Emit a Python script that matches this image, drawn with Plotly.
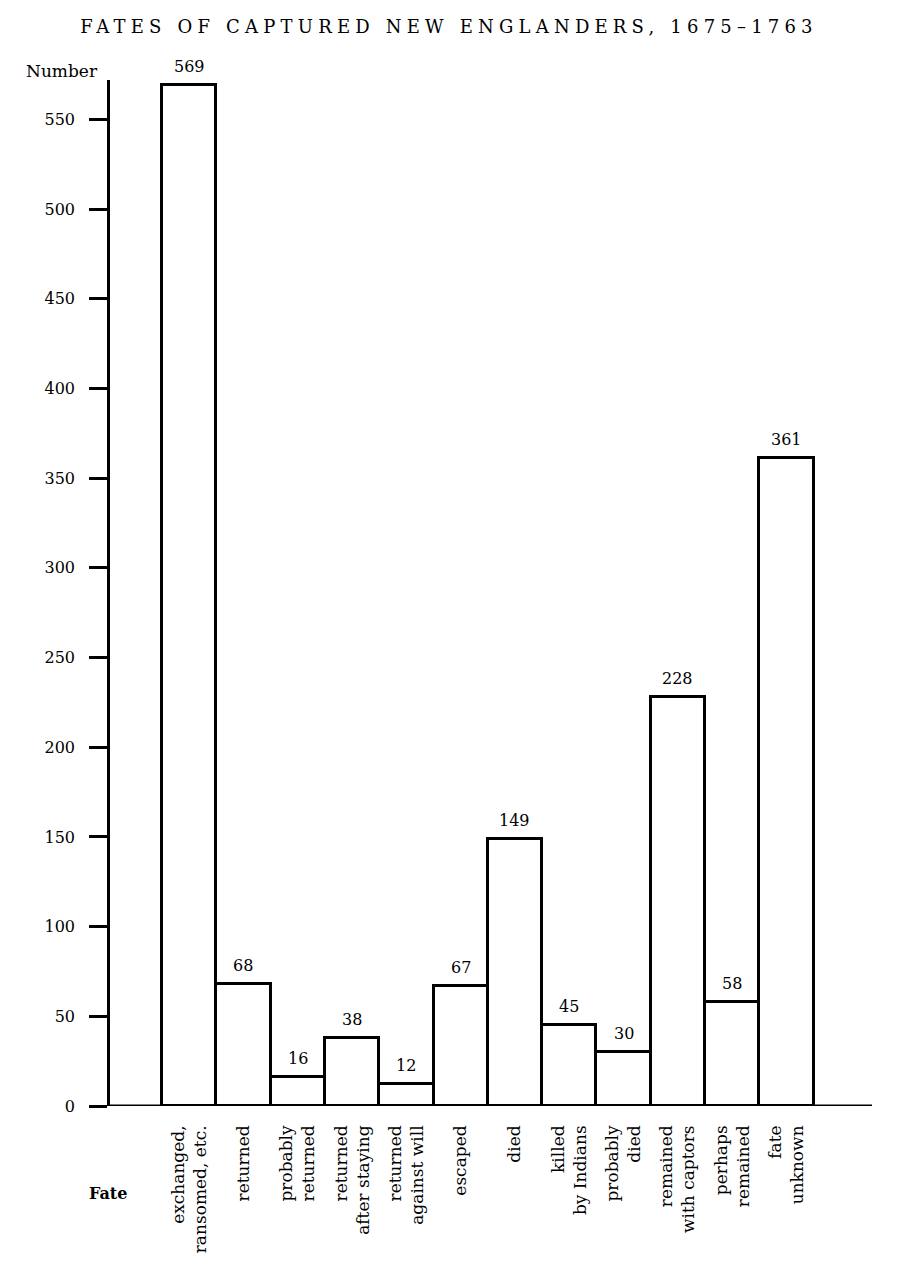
import plotly.graph_objects as go

categories = [
    "exchanged,<br>ransomed, etc.",
    "returned",
    "probably<br>returned",
    "returned<br>after staying",
    "returned<br>against will",
    "escaped",
    "died",
    "killed<br>by Indians",
    "probably<br>died",
    "remained<br>with captors",
    "perhaps<br>remained",
    "fate<br>unknown",
]
values = [569, 68, 16, 38, 12, 67, 149, 45, 30, 228, 58, 361]
y_ticks = [0, 50, 100, 150, 200, 250, 300, 350, 400, 450, 500, 550]

title = "FATES OF CAPTURED NEW ENGLANDERS, 1675\u20131763"
FONT = "DejaVu Serif"

positions = list(range(len(categories)))

W, H = 916, 1274  # page has an 8px body margin

fig = go.Figure()
fig.add_trace(go.Bar(
    x=positions,
    y=values,
    width=1.0,
    marker=dict(color="white", line=dict(color="black", width=3)),
    hoverinfo="skip",
    showlegend=False,
))

for p, v in zip(positions, values):
    fig.add_annotation(
        x=p, y=v, text=str(v), showarrow=False,
        xref="x", yref="y", yanchor="bottom", yshift=7,
        font=dict(family=FONT, size=16, color="black"),
    )

fig.add_annotation(
    text="Number", xref="paper", yref="paper", x=-0.013, y=1.0,
    xanchor="right", yanchor="middle", yshift=9, showarrow=False,
    font=dict(family=FONT, size=17, color="black"),
)
fig.add_annotation(
    text="<b>Fate</b>", xref="paper", yref="paper", x=-0.003, y=0,
    xanchor="center", yanchor="middle", yshift=-87, showarrow=False,
    font=dict(family=FONT, size=16, color="black"),
)

fig.update_layout(
    width=W, height=H,
    margin=dict(l=102, r=52, t=72, b=176),
    paper_bgcolor="white", plot_bgcolor="white",
    title=dict(
        text='<span style="letter-spacing:5.2px">' + title + "</span>",
        xref="container", yref="container",
        x=441 / W, y=1 - 19 / H, xanchor="center", yanchor="middle",
        font=dict(family=FONT, size=18, color="black"),
    ),
    bargap=0,
)

fig.update_xaxes(
    range=[-1.458, 12.575],
    tickmode="array", tickvals=positions, ticktext=categories,
    tickangle=-90, ticks="", showgrid=False, zeroline=False,
    showline=False,
    ticklabelstandoff=15,
    tickfont=dict(family=FONT, size=17, color="black"),
    fixedrange=True,
)
fig.update_yaxes(
    range=[0, 572],
    tickmode="array", tickvals=y_ticks,
    ticks="outside", ticklen=18, tickwidth=3, tickcolor="black",
    showline=True, linecolor="black", linewidth=2.5,
    showgrid=False, zeroline=False,
    ticklabelstandoff=11,
    tickfont=dict(family=FONT, size=16, color="black"),
    fixedrange=True,
)

# horizontal baseline (x axis line at zero)
fig.add_shape(
    type="line", xref="paper", yref="y", x0=-0.003, x1=1.0, y0=0, y1=0,
    line=dict(color="black", width=3),
)

fig.write_html("out.html")
